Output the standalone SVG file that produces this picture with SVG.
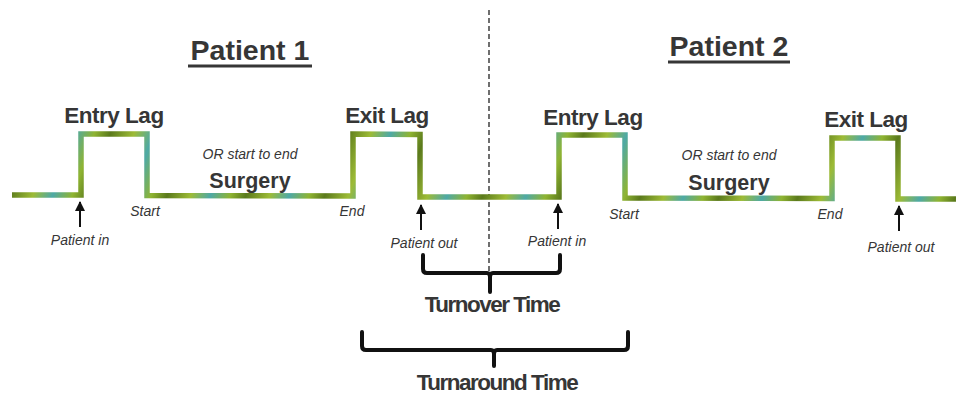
<svg xmlns="http://www.w3.org/2000/svg" width="956" height="395" viewBox="0 0 956 395">
<defs>
<linearGradient id="wave" gradientUnits="userSpaceOnUse" x1="0" y1="0" x2="70" y2="25" spreadMethod="repeat">
<stop offset="0" stop-color="#5b7a1c"/>
<stop offset="0.3" stop-color="#9dbb36"/>
<stop offset="0.55" stop-color="#4ea9a6"/>
<stop offset="0.8" stop-color="#8fb432"/>
<stop offset="1" stop-color="#5b7a1c"/>
</linearGradient>
<marker id="arr" viewBox="0 0 10 10" refX="9" refY="5" markerWidth="5" markerHeight="5" orient="auto">
<path d="M0,0 L10,5 L0,10 z" fill="#111"/>
</marker>
<style>
.t{font-family:"Liberation Sans",Arial,sans-serif;fill:#363636;text-anchor:middle}
.lag{font-size:22.5px;font-weight:bold;letter-spacing:-0.5px}
.title{font-size:28.5px;font-weight:bold}
.it{font-size:14px;font-style:italic}
.sm{font-size:14px;font-style:italic}
.surg{font-size:21.5px;font-weight:bold}
.big{font-size:22.5px;font-weight:bold;letter-spacing:-1.5px}
.arrow{stroke:#111;stroke-width:2;fill:none;marker-end:url(#arr)}
.br{stroke:#111;stroke-width:4;fill:none;stroke-linejoin:round;stroke-linecap:round}
.ul{stroke:#363636;stroke-width:3}
</style>
</defs>
<g id="divider"><line x1="489" y1="10" x2="489" y2="274" stroke="#222" stroke-width="1.3" stroke-dasharray="5,3"/></g>
<g id="timeline"><polyline points="12,195 81,195 81,134 147,134 147,195.5 353,196 353,134 420,134.5 420,197 559,197 559,135 625,135 625,198 832,198.5 832,138 898,138 898,199 956,199" fill="none" stroke="url(#wave)" stroke-width="5.5" stroke-linejoin="miter"/></g>
<g id="patient1-title"><text class="t title" x="250" y="60">Patient 1</text><line class="ul" x1="188" y1="66" x2="312" y2="66"/></g>
<g id="patient2-title"><text class="t title" x="729" y="56">Patient 2</text><line class="ul" x1="668" y1="62" x2="790" y2="62"/></g>
<g id="entry-lag-1"><text class="t lag" x="114" y="123">Entry Lag</text></g>
<g id="exit-lag-1"><text class="t lag" x="387" y="123">Exit Lag</text></g>
<g id="entry-lag-2"><text class="t lag" x="593" y="125">Entry Lag</text></g>
<g id="exit-lag-2"><text class="t lag" x="866" y="127">Exit Lag</text></g>
<g id="surgery-1"><text class="t it" x="250" y="159">OR start to end</text><text class="t surg" x="250" y="188">Surgery</text></g>
<g id="surgery-2"><text class="t it" x="729" y="160">OR start to end</text><text class="t surg" x="729" y="190">Surgery</text></g>
<g id="labels">
<text class="t it" x="145" y="216">Start</text>
<text class="t it" x="352" y="216">End</text>
<text class="t it" x="624" y="219">Start</text>
<text class="t it" x="830" y="219">End</text>
<text class="t sm" x="80" y="245">Patient in</text>
<text class="t sm" x="424" y="248">Patient out</text>
<text class="t sm" x="557" y="246">Patient in</text>
<text class="t sm" x="901" y="252">Patient out</text>
</g>
<g id="connectors">
<line class="arrow" x1="80" y1="227" x2="80" y2="202"/>
<line class="arrow" x1="421" y1="230" x2="421" y2="205"/>
<line class="arrow" x1="558" y1="229" x2="558" y2="204"/>
<line class="arrow" x1="899" y1="231" x2="899" y2="206"/>
</g>
<g id="turnover"><path class="br" d="M423,255 V269 Q423,273 427,273 H487 Q490,273 490,277 V292 M490,277 Q490,273 493,273 H556 Q560,273 560,269 V255"/><text class="t big" x="492" y="312">Turnover Time</text></g>
<g id="turnaround"><path class="br" d="M362,332 V346 Q362,350 366,350 H491 Q494,350 494,354 V366 M494,354 Q494,350 497,350 H624 Q628,350 628,346 V332"/><text class="t big" x="497" y="390">Turnaround Time</text></g>
</svg>
